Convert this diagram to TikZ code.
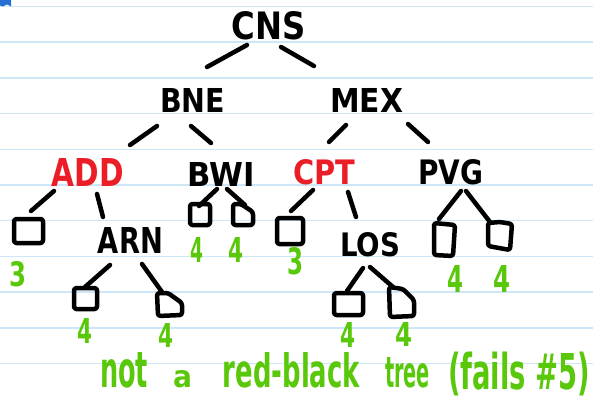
\documentclass[tikz,border=0pt]{standalone}
\usepackage{fontspec}
\setmainfont{DejaVu Sans}
\usepackage{graphicx}
\definecolor{inkred}{RGB}{235,30,40}
\definecolor{inkgreen}{RGB}{90,200,10}
\definecolor{paperline}{RGB}{205,230,248}
\definecolor{inkblue}{RGB}{40,110,210}
% \hw{name}{colour}{cx}{cy}{width}{height}{text}
\newcommand{\hw}[7]{\node[inner sep=0pt,text=#2] (#1) at (#3,#4) {\resizebox{#5pt}{#6pt}{\bfseries #7}};}
\newcommand{\hwt}[7]{\node[inner sep=0pt,text=#2] (#1) at (#3,#4) {\resizebox*{#5pt}{#6pt}{\bfseries #7}};}
\begin{document}
\begin{tikzpicture}[x=1pt,y=-1pt,
  pen/.style={line width=4.5pt,line cap=round,line join=round,black},
  leafbox/.style={pen,rounded corners=2.5pt},
  ruling/.style={paperline,line width=1.5pt}]
\useasboundingbox (0,0) rectangle (593,396);
\fill[white] (0,0) rectangle (593,396);
% paper rulings
\foreach \k in {0,...,10}{\draw[ruling] (0,{6.5+35.7*\k}) -- (593,{6.5+35.7*\k});}
\fill[inkblue] (0,0) -- (11,0) -- (11,6.5) -- (7,4.5) -- (3,6.5) -- (0,5.5) -- cycle;

% internal node labels
\hw{cns}{black}{269}{26}{74}{28}{CNS}
\hw{bne}{black}{192.5}{100}{65}{24}{BNE}
\hw{mex}{black}{366.5}{100}{73}{24}{MEX}
\hw{add}{inkred}{88}{172}{72}{28}{ADD}
\hw{bwi}{black}{221.5}{174}{67}{24}{BWI}
\hw{cpt}{inkred}{324}{172.5}{62}{25}{CPT}
\hw{pvg}{black}{450.5}{172.5}{65}{25}{PVG}
\hw{arn}{black}{130.5}{240}{65}{26}{ARN}
\hw{los}{black}{370}{245}{60}{24}{LOS}

% leaf boxes
\draw[leafbox] (14,219) rectangle (43,243);
\coordinate (leafA) at (28.5,231);
\draw[leafbox] (190,204) rectangle (210,225);
\coordinate (leafB) at (200,214);
\draw[leafbox] (233,204) -- (233,225) -- (253,225) -- (253,212) -- (241,204) -- cycle;
\coordinate (leafC) at (243,214);
\draw[leafbox] (74,288) rectangle (97,309);
\coordinate (leafD) at (85,298);
\draw[leafbox] (157,293) -- (158,316) -- (182,315) -- (182,303) -- (168,293) -- cycle;
\coordinate (leafE) at (169,304);
\draw[leafbox] (277,218) rectangle (303,244);
\coordinate (leafF) at (290,231);
\draw[leafbox] (334,293) rectangle (363,315);
\coordinate (leafG) at (348,304);
\draw[leafbox] (389,287) -- (390,317) -- (414,316) -- (414,300) -- (403,289) -- cycle;
\coordinate (leafH) at (402,302);
\draw[leafbox] (434,223) -- (434,255) -- (453,256) -- (455,225) -- cycle;
\coordinate (leafI) at (444,240);
\draw[leafbox] (488,223) -- (488,246) -- (510,250) -- (512,224) -- (500,222) -- cycle;
\coordinate (leafJ) at (500,236);

% connector end points
\coordinate (e1a) at (247,45);  \coordinate (e1b) at (207,67);
\coordinate (e2a) at (281,47);  \coordinate (e2b) at (314,66);
\coordinate (e3a) at (157,126); \coordinate (e3b) at (130,145);
\coordinate (e4a) at (191,126); \coordinate (e4b) at (211,143);
\coordinate (e5a) at (346,125); \coordinate (e5b) at (329,142);
\coordinate (e6a) at (408,124); \coordinate (e6b) at (428,142);
\coordinate (e7a) at (54,191);  \coordinate (e7b) at (31,211);
\coordinate (e8a) at (97,194);  \coordinate (e8b) at (103,217);
\coordinate (e9a) at (217,189); \coordinate (e9b) at (199,206);
\coordinate (e10a) at (227,189); \coordinate (e10b) at (245,205);
\coordinate (e11a) at (110,265); \coordinate (e11b) at (85,287);
\coordinate (e12a) at (142,264); \coordinate (e12b) at (162,292);
\coordinate (e13a) at (313,190); \coordinate (e13b) at (291,211);
\coordinate (e14a) at (348,192); \coordinate (e14b) at (356,217);
\coordinate (e15a) at (363,268); \coordinate (e15b) at (347,291);
\coordinate (e16a) at (370,267); \coordinate (e16b) at (393,287);
\coordinate (e17a) at (461,191); \coordinate (e17b) at (439,219);
\coordinate (e18a) at (466,191); \coordinate (e18b) at (490,222);
\foreach \i in {1,...,18}{\draw[pen] (e\i a) -- (e\i b);}

% black-heights
\hw{h3a}{inkgreen}{18.5}{274.5}{17}{25}{3}
\hw{h3b}{inkgreen}{295}{261.5}{16}{27}{3}
\hw{h4a}{inkgreen}{196.5}{249.5}{13}{25}{4}
\hw{h4b}{inkgreen}{235.5}{249.5}{15}{25}{4}
\hw{h4c}{inkgreen}{84.5}{330.5}{15}{25}{4}
\hw{h4d}{inkgreen}{165.5}{335}{15}{24}{4}
\hw{h4e}{inkgreen}{347.5}{334.5}{15}{25}{4}
\hw{h4f}{inkgreen}{403.5}{334}{17}{24}{4}
\hw{h4g}{inkgreen}{455}{278.5}{16}{27}{4}
\hw{h4h}{inkgreen}{501.5}{278.5}{17}{27}{4}

% caption
\hw{w1}{inkgreen}{124}{370.5}{48}{35}{not}
\hw{w2}{inkgreen}{182.5}{379.5}{19}{17}{a}
\hw{w3}{inkgreen}{291.5}{370.5}{137}{35}{red-black}
\hw{w4}{inkgreen}{407.5}{373}{45}{30}{tree}
\hwt{w5}{inkgreen}{519}{374}{142}{44}{(fails \#5)}
\end{tikzpicture}
\end{document}
